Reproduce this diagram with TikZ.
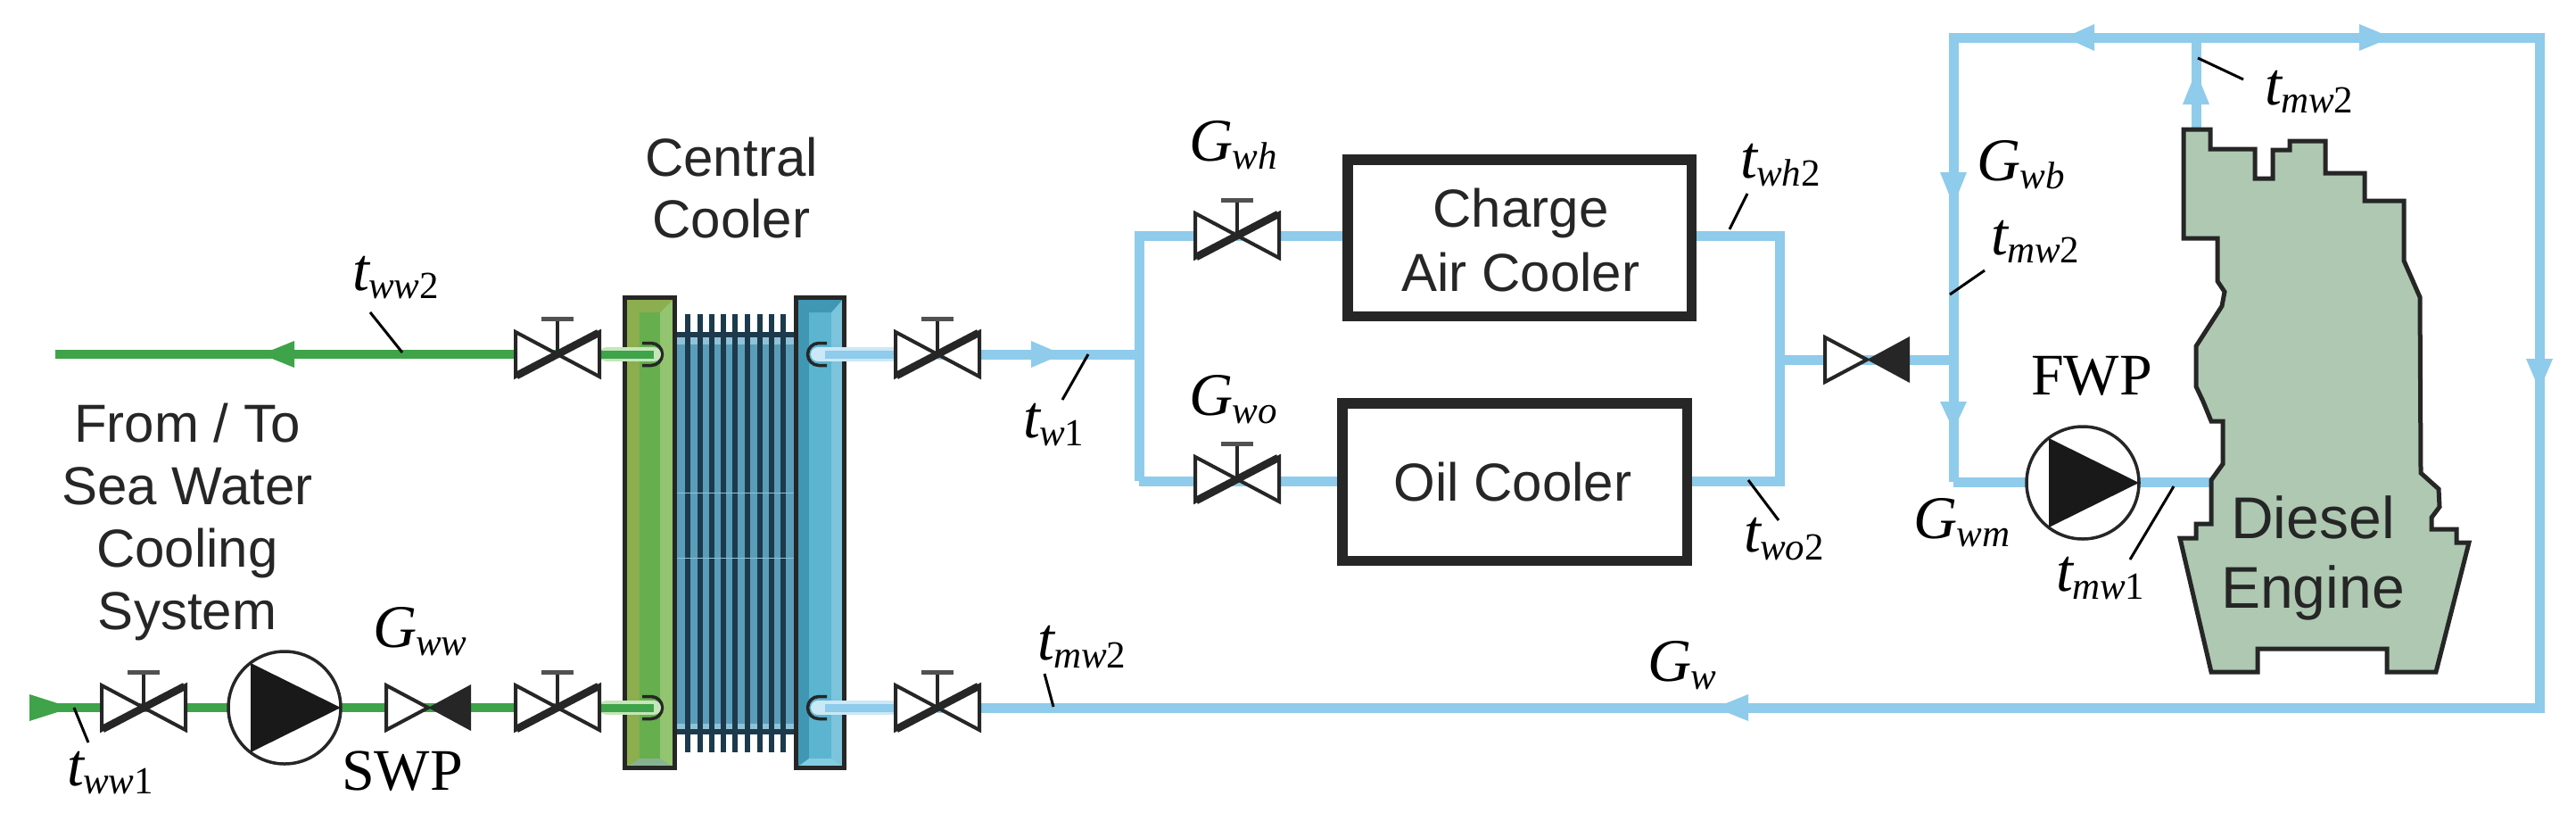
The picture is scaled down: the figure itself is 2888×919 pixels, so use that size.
\documentclass[tikz,border=0pt]{standalone}
\usepackage{fontspec}
\setmainfont{Liberation Serif}
\setsansfont{Liberation Sans}
\definecolor{pipeblue}{HTML}{8FCBEA}
\definecolor{pipegreen}{HTML}{3FA34A}
\definecolor{haloblue}{HTML}{CBE8F6}
\definecolor{halogreen}{HTML}{C4E6BA}
\definecolor{inkdark}{HTML}{262626}
\definecolor{enginefill}{HTML}{AEC8B2}
\definecolor{coreblue}{HTML}{5A9DB9}
\definecolor{coreline}{HTML}{1C3A4C}
\definecolor{corelight}{HTML}{8FC3D8}
\definecolor{greenmain}{HTML}{66AE4E}
\definecolor{greenlight}{HTML}{93C470}
\definecolor{greendark}{HTML}{8CAE4E}
\definecolor{bluemain}{HTML}{5BB5D0}
\definecolor{bluedark}{HTML}{3F97B4}
\definecolor{bluelight}{HTML}{7CC3DC}
\newcommand{\lab}[3]{{\itshape\fontsize{68}{68}\selectfont #1\raisebox{-9pt}{\fontsize{43}{43}\selectfont\hspace{-1pt}#2\upshape #3}}}
\newcommand{\valvesym}[1]{\begin{scope}[shift={(#1)}]
 \draw[valveline,fill=white] (-47,-25) -- (47,25) -- (47,-25) -- (-47,25) -- cycle;
 \draw[line width=8.5pt,inkdark] (-46,24) -- (46,-24);
 \draw[line width=4.5pt,inkdark] (0,0) -- (0,-40);
 \draw[line width=5pt,inkdark!80] (-18,-40) -- (18,-40);
\end{scope}}
\newcommand{\checksym}[1]{\begin{scope}[shift={(#1)}]
 \draw[valveline,fill=white] (-47,-25) -- (0,0) -- (-47,25) -- cycle;
 \fill[inkdark] (48,-26) -- (0,0) -- (48,26) -- cycle;
\end{scope}}
\newcommand{\pumpsym}[1]{\begin{scope}[shift={(#1)}]
 \draw[line width=3.5pt,inkdark,fill=white] (0,0) circle (63pt);
 \fill[black!90] (-38,-50) -- (63,0) -- (-38,50) -- cycle;
\end{scope}}
\newcommand{\flowtip}[4]{\fill[#4,shift={(#1)},rotate=#2] (-#3,-15) -- (0,0) -- (-#3,15) -- cycle;}
\tikzset{
 x=1pt,y=-1pt,
 valveline/.style={line width=4pt,inkdark},
 bluepipe/.style={line width=11pt,pipeblue,line join=miter},
 greenpipe/.style={line width=10pt,pipegreen},
 leader/.style={line width=3pt,black},
 sanslab/.style={font=\sffamily\fontsize{60}{70}\selectfont,align=center,inner sep=0pt,text=inkdark},
 serlab/.style={inner sep=0pt,anchor=base west,text=black},
 serroman/.style={inner sep=0pt,anchor=base west,font=\fontsize{66}{66}\selectfont,text=black},
 boxst/.style={draw=inkdark,line width=11.5pt,fill=white,inner sep=0pt,anchor=north west},
}
\begin{document}
\begin{tikzpicture}
\useasboundingbox (0,0) rectangle (2888,919);
% named points
\coordinate (gl) at (62,397); \coordinate (gv) at (625,397); \coordinate (gp1) at (733,397);
\coordinate (gb0) at (50,793); \coordinate (gv1) at (161,793); \coordinate (swp) at (319,793);
\coordinate (gck) at (480,793); \coordinate (gv2) at (625,793); \coordinate (gp2) at (733,793);
\coordinate (bp1) at (917,397); \coordinate (bv1) at (1051,397); \coordinate (j1) at (1277,397);
\coordinate (bp2) at (917,793); \coordinate (bv2) at (1051,793);
\coordinate (jt) at (1277,264); \coordinate (jb) at (1277,539);
\coordinate (vh) at (1387,264); \coordinate (vo) at (1387,537);
\coordinate (rt) at (1995,264); \coordinate (rb) at (1995,539); \coordinate (rm) at (1995,403);
\coordinate (ck) at (2093,403); \coordinate (mm) at (2190,403);
\coordinate (mt) at (2190,42); \coordinate (mb) at (2190,540); \coordinate (fwp) at (2335,541);
\coordinate (tr) at (2847,42); \coordinate (br) at (2847,793); \coordinate (eo) at (2462,150); \coordinate (et) at (2462,42);
\coordinate (ei) at (2482,540);
% pipes
\draw[greenpipe] (gl) -- (gv);
\draw[greenpipe] (gb0) -- (gv2);
\draw[bluepipe] (bv1) -- (j1);
\draw[bluepipe] (jb) -- (jt) -- (rt |- jt) -- (rb) -- (jb);
\draw[bluepipe] (rm) -- (mm);
\draw[bluepipe] (mb) -- (mt) -- (tr) -- (br) -- (bv2);
\draw[bluepipe] (eo) -- (et);
\draw[bluepipe] (mb) -- (ei);
% engine
\draw[draw=inkdark,fill=enginefill,line width=5pt,line join=miter]
 (2448,145) -- (2478,145) -- (2478,167) -- (2528,167) -- (2528,200) -- (2548,200) -- (2548,168) -- (2567,168) -- (2567,158) -- (2607,158) -- (2607,194) -- (2651,194) -- (2651,225) -- (2695,225) -- (2695,292) -- (2713,333) -- (2714,530) -- (2734,548) -- (2735,568) -- (2726,580) -- (2726,593) -- (2754,593) -- (2754,608) -- (2768,608) -- (2731,753) -- (2676,753) -- (2676,727) -- (2531,727) -- (2531,753) -- (2479,753) -- (2444,603) -- (2462,603) -- (2462,587) -- (2479,587) -- (2479,538) -- (2492,520) -- (2492,472) -- (2479,472) -- (2470,450) -- (2462,433) -- (2462,388) -- (2491,343) -- (2494,327) -- (2486,315) -- (2486,267) -- (2448,267) -- cycle;
% flow arrows
\flowtip{293,397}{180}{37}{pipegreen}
\flowtip{80,793}{0}{47}{pipegreen}
\flowtip{1191,397}{0}{35}{pipeblue}
\flowtip{2315,42}{180}{33}{pipeblue}
\flowtip{2681,42}{0}{36}{pipeblue}
\flowtip{2462,80}{90}{37}{pipeblue}
\flowtip{2190,230}{-90}{37}{pipeblue}
\flowtip{2190,482}{-90}{32}{pipeblue}
\flowtip{2847,437}{-90}{35}{pipeblue}
\flowtip{1923,793}{180}{37}{pipeblue}
% cooler core
\fill[coreblue] (759,375) rectangle (890,820);
\fill[corelight] (759,378) rectangle (890,386);
\fill[corelight] (759,811) rectangle (890,817);
\foreach \xx in {771,785,798,811,824,838,852,865,878} {\draw[line width=5.5pt,coreline] (\xx,352) -- (\xx,843);}
\fill[coreline] (759,372) rectangle (890,378);
\fill[coreline] (759,817) rectangle (890,823);
\foreach \yy in {552,625} {\draw[line width=1pt,corelight] (759,\yy) -- (890,\yy);}
% cooler headers
\fill[greenmain] (700,333) rectangle (757,861);
\fill[greendark] (700,333) rectangle (717,861);
\fill[greenlight] (740,333) rectangle (757,861);
\fill[greendark] (700,333) -- (757,333) -- (740,350) -- (717,350) -- cycle;
\fill[color={rgb,255:red,135;green,178;blue,145}] (717,850) -- (740,850) -- (757,861) -- (700,861) -- cycle;
\draw[inkdark,line width=5pt] (700.5,333.5) rectangle (756.5,860.5);
\fill[bluemain] (892,333) rectangle (947,861);
\fill[bluedark] (892,333) rectangle (907,861);
\fill[bluelight] (932,333) rectangle (947,861);
\fill[bluedark] (892,333) -- (947,333) -- (932,350) -- (907,350) -- cycle;
\fill[color={rgb,255:red,130;green,205;blue,225}] (907,850) -- (932,850) -- (947,861) -- (892,861) -- cycle;
\draw[inkdark,line width=5pt] (892.5,333.5) rectangle (946.5,860.5);
% ports
\foreach \yy in {397,793} {
 \draw[line width=3.5pt,inkdark] (720,\yy-12.5) -- (730,\yy-12.5) arc (90:-90:12.5pt) -- (720,\yy+12.5);
 \draw[line width=3.5pt,inkdark] (927,\yy-12.5) -- (918,\yy-12.5) arc (90:270:12.5pt) -- (927,\yy+12.5);
}
\draw[line width=16pt,halogreen,line cap=round] (680,397) -- (gp1);
\draw[line width=16pt,halogreen,line cap=round] (680,793) -- (gp2);
\draw[line width=9pt,pipegreen] (674,397) -- (gp1);
\draw[line width=9pt,pipegreen] (674,793) -- (gp2);
\draw[line width=16pt,haloblue,line cap=round] (bp1) -- (1002,397);
\draw[line width=16pt,haloblue,line cap=round] (bp2) -- (1002,793);
\draw[line width=9pt,pipeblue] (925,397) -- (1002,397);
\draw[line width=9pt,pipeblue] (925,793) -- (1002,793);
% boxes
\node[boxst,minimum width=385.5pt,minimum height=175.5pt] (charge) at (1505,173) {};
\node[boxst,minimum width=386.5pt,minimum height=176.5pt] (oil) at (1499,446) {};
\node[sanslab,font=\sffamily\fontsize{60}{72}\selectfont] (chargetxt) at (1705,269.5) {Charge\\Air Cooler};
\node[sanslab] (oiltxt) at (1696,540.5) {Oil Cooler};
% valves
\valvesym{gv} \valvesym{gv1} \checksym{gck} \valvesym{gv2} \pumpsym{swp}
\valvesym{bv1} \valvesym{bv2} \valvesym{vh} \valvesym{vo} \checksym{ck} \pumpsym{fwp}
% text
\node[sanslab] (seatxt) at (210,585) {From / To\\Sea Water\\Cooling\\System};
\node[sanslab,font=\sffamily\fontsize{60}{69}\selectfont] (cctxt) at (820,210.5) {Central\\Cooler};
\node[sanslab,font=\sffamily\fontsize{66}{78}\selectfont] (detxt) at (2593,625) {Diesel\\Engine};
\node[serroman] (swptxt) at (383,885) {SWP};
\node[serroman] (fwptxt) at (2277,442) {FWP};
\node[serlab] (lgww) at (418,725) {\lab{G}{ww}{}};
\node[serlab] (lgwh) at (1333,180) {\lab{G}{wh}{}};
\node[serlab] (lgwo) at (1333,465) {\lab{G}{wo}{}};
\node[serlab] (lgwb) at (2216,202) {\lab{G}{wb}{}};
\node[serlab] (lgwm) at (2145,603) {\lab{G}{wm}{}};
\node[serlab] (lgw) at (1847,763) {\lab{G}{w}{}};
\node[serlab] (ltww2) at (395,325) {\lab{t}{ww}{2}};
\node[serlab] (ltww1) at (75,880) {\lab{t}{ww}{1}};
\node[serlab] (ltw1) at (1147,490) {\lab{t}{w}{1}};
\node[serlab] (ltwh2) at (1951,199) {\lab{t}{wh}{2}};
\node[serlab] (ltwo2) at (1955,618) {\lab{t}{wo}{2}};
\node[serlab] (ltmw2a) at (2539,117) {\lab{t}{mw}{2}};
\node[serlab] (ltmw2b) at (2232,285) {\lab{t}{mw}{2}};
\node[serlab] (ltmw1) at (2305,662) {\lab{t}{mw}{1}};
\node[serlab] (ltmw2c) at (1163,739) {\lab{t}{mw}{2}};
% leaders
\draw[leader] (415,350) -- (451,395);
\draw[leader] (83,793) -- (99,832);
\draw[leader] (1220,397) -- (1191,448);
\draw[leader] (1959,217) -- (1939,257);
\draw[leader] (1960,538) -- (1994,583);
\draw[leader] (2464,65) -- (2515,89);
\draw[leader] (2225,303) -- (2186,330);
\draw[leader] (2437,545) -- (2388,627);
\draw[leader] (1171,755) -- (1181,792);
\end{tikzpicture}
\end{document}
